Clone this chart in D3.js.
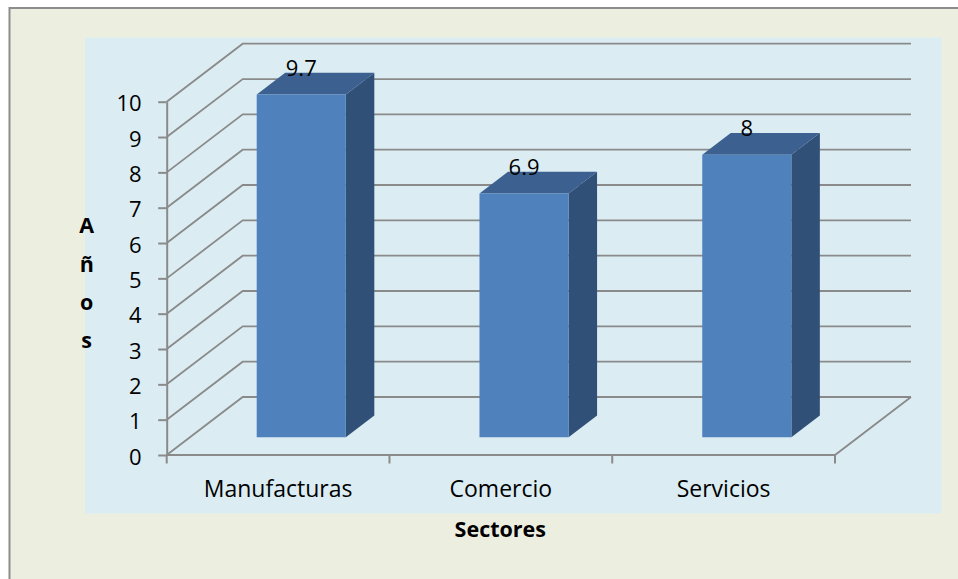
<!DOCTYPE html>
<html>
<head>
<meta charset="utf-8">
<script src="https://cdn.jsdelivr.net/npm/d3@7"></script>
<style>
  html, body { margin: 0; padding: 0; background: #ffffff; }
  svg { display: block; font-family: "Open Sans", sans-serif; }
</style>
</head>
<body>
<svg id="chart" width="958" height="579"></svg>
<script>
// Años promedio por sector
const categories = ["Manufacturas", "Comercio", "Servicios"];
const values = [9.7, 6.9, 8];
const yTicks = [0, 1, 2, 3, 4, 5, 6, 7, 8, 9, 10];
const yTitle = "Años";
const xTitle = "Sectores";

const svg = d3.select("#chart");

// outer frame and plot area
svg.append("rect")
  .attr("x", 9.5).attr("y", 8).attr("width", 980).attr("height", 620)
  .attr("fill", "#ECEFE0").attr("stroke", "#8c8c8c").attr("stroke-width", 2);
svg.append("rect")
  .attr("x", 85).attr("y", 37.5).attr("width", 856.5).attr("height", 476)
  .attr("fill", "#DBEDF3");

// front plane geometry and 3D depth offset
const frontLeft = 166.7, frontRight = 835, floorY = 455, topY = 101.7;
const depth = { dx: 76, dy: -58 };
const proj = (px, py, f) => [px + depth.dx * f, py + depth.dy * f];

const x = d3.scaleBand().domain(categories).range([frontLeft, frontRight]).padding(0);
const y = d3.scaleLinear().domain([0, 10]).range([floorY, topY]);
const bw = x.bandwidth();

const gridColor = "#8a8a8a";
const line = d3.line();

// walls: one bent gridline per tick (side wall diagonal + back wall horizontal)
const grid = svg.append("g").attr("fill", "none").attr("stroke", gridColor).attr("stroke-width", 1.8);
yTicks.forEach(t => {
  grid.append("path").attr("d", line([
    [frontLeft, y(t)],
    proj(frontLeft, y(t), 1),
    proj(frontRight, y(t), 1)
  ]));
});
// floor front edge and right edge
grid.append("path").attr("d", line([
  [frontLeft, floorY],
  [frontRight, floorY],
  proj(frontRight, floorY, 1)
]));

// value axis
const yAxis = d3.axisLeft(y).tickValues(yTicks).tickSize(8.5).tickPadding(16.5).tickSizeOuter(0);
const yg = svg.append("g").attr("transform", `translate(${frontLeft},0)`).call(yAxis);
yg.select(".domain").attr("stroke", gridColor).attr("stroke-width", 2);
yg.selectAll(".tick line").attr("stroke", gridColor).attr("stroke-width", 2);
yg.selectAll(".tick text")
  .attr("font-family", "Open Sans, sans-serif")
  .attr("font-size", 22).attr("fill", "#000").attr("dy", "0.42em");

// category tick marks at band boundaries
const bounds = categories.map(c => x(c)).concat([frontRight]);
svg.append("g").selectAll("line").data(bounds).join("line")
  .attr("x1", d => d).attr("x2", d => d)
  .attr("y1", floorY).attr("y2", floorY + 8.5)
  .attr("stroke", gridColor).attr("stroke-width", 2);

// category labels
svg.append("g").selectAll("text").data(categories).join("text")
  .attr("x", d => x(d) + bw / 2).attr("y", 497.3)
  .attr("text-anchor", "middle").attr("font-size", 23).attr("fill", "#000")
  .text(d => d);

// 3D bars
const fFront = 0.305, fBack = 0.68, widthFrac = 0.4;
const bars = svg.append("g");
categories.forEach((c, i) => {
  const v = values[i];
  const cx = x(c) + bw / 2, hw = bw * widthFrac / 2;
  const L = cx - hw, R = cx + hw, T = y(v), B = y(0);
  const g = bars.append("g");
  g.append("path").attr("fill", "#315078")
    .attr("d", line([proj(R, T, fFront), proj(R, B, fFront), proj(R, B, fBack), proj(R, T, fBack)]) + "Z");
  g.append("path").attr("fill", "#3C608F")
    .attr("d", line([proj(L, T, fFront), proj(R, T, fFront), proj(R, T, fBack), proj(L, T, fBack)]) + "Z");
  g.append("path").attr("fill", "#4F81BD")
    .attr("d", line([proj(L, T, fFront), proj(R, T, fFront), proj(R, B, fFront), proj(L, B, fFront)]) + "Z");
  const [lx, ly] = proj(cx, T, fFront);
  g.append("text").attr("x", lx).attr("y", ly - 18.7)
    .attr("text-anchor", "middle").attr("font-size", 22).attr("fill", "#000")
    .text(v);
});

// axis titles
svg.append("text").attr("x", 500.3).attr("y", 537.3)
  .attr("text-anchor", "middle").attr("font-size", 21.5).attr("font-weight", "bold")
  .text(xTitle);
svg.append("g").selectAll("text").data(Array.from(yTitle)).join("text")
  .attr("x", 86.7).attr("y", (d, i) => 233.3 + i * 38.35)
  .attr("text-anchor", "middle").attr("font-size", 21.5).attr("font-weight", "bold")
  .text(d => d);
</script>
</body>
</html>
